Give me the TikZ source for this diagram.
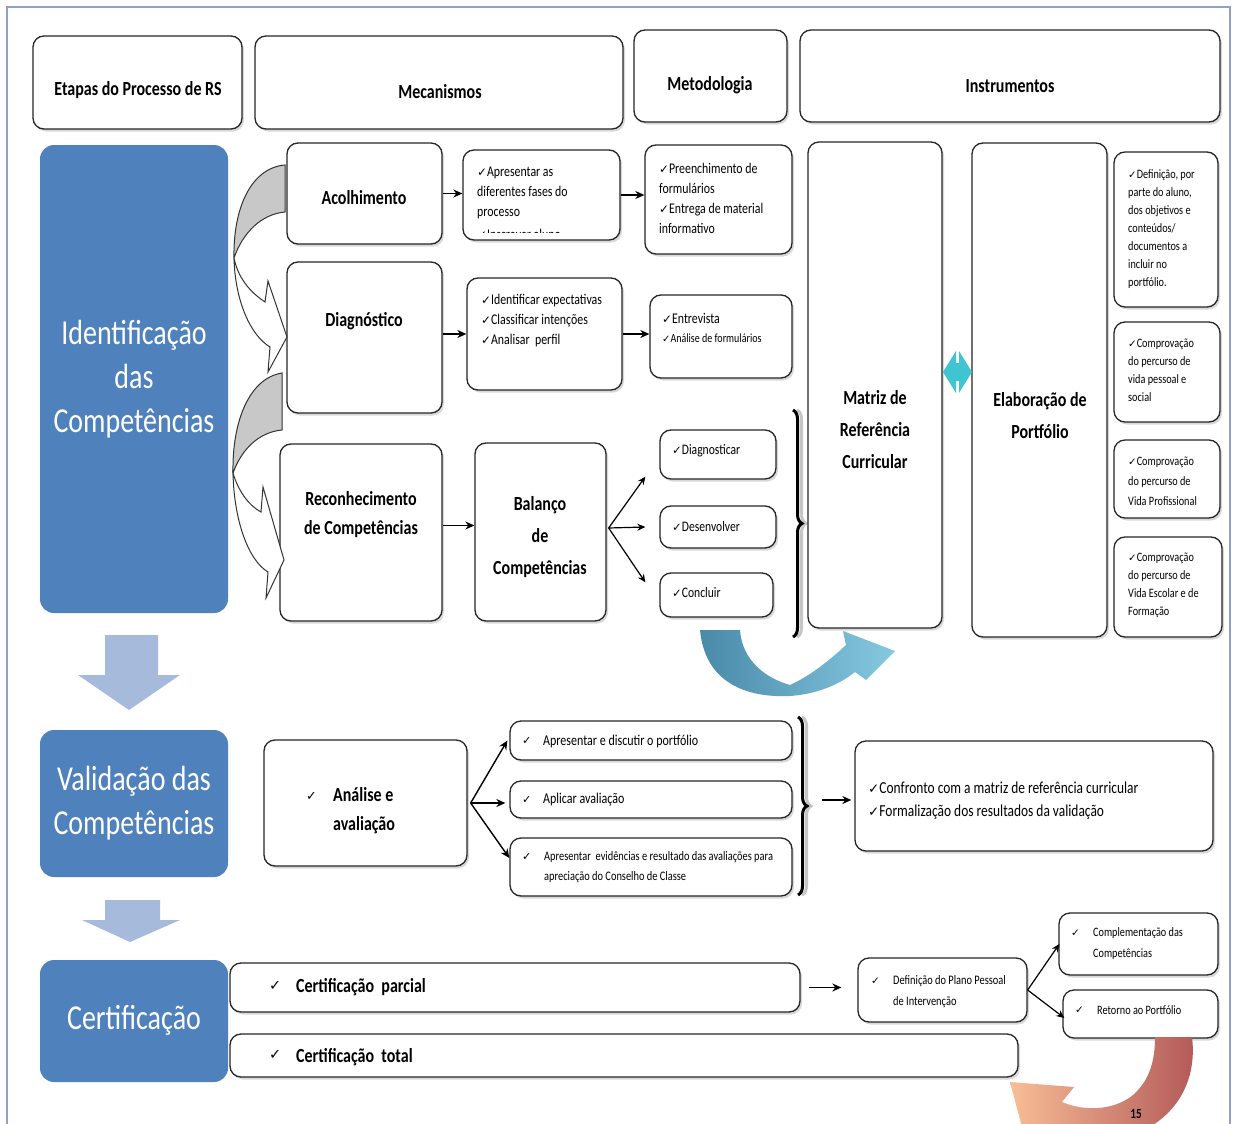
\documentclass[tikz,border=0pt]{standalone}
\usepackage{fontspec}
\setmainfont{Carlito}[FakeStretch=0.8]
\newfontfamily\dejavu{DejaVu Sans}
\usetikzlibrary{arrows.meta,shadows,decorations.pathreplacing}
\definecolor{stageblue}{RGB}{79,129,189}
\definecolor{downblue}{RGB}{166,186,220}
\definecolor{framecol}{RGB}{140,162,198}
\definecolor{grayback}{RGB}{200,200,200}
\definecolor{tealA}{RGB}{72,138,168}
\definecolor{tealB}{RGB}{135,200,225}
\definecolor{cyanarr}{RGB}{64,196,210}
\definecolor{redA}{RGB}{178,88,88}
\definecolor{peach}{RGB}{248,190,150}
\newcommand\fs[2]{\fontsize{#1}{#2}\selectfont}
\newcommand\ck{{\dejavu\scalebox{0.8}{\char"2713}}}
\begin{document}
\begin{tikzpicture}[x=1pt,y=-1pt,
  box/.style={draw=black!85,line width=1.3pt,rounded corners=11pt,fill=white,inner sep=0pt,
     drop shadow={shadow xshift=2pt,shadow yshift=-2.5pt,opacity=0.3}},
  stage/.style={fill=stageblue,rounded corners=14pt,inner sep=0pt},
  stagetxt/.style={text=white,align=center,inner sep=0pt,font=\fs{35}{44}},
  hdr/.style={inner sep=0pt,font=\fs{20}{24}\bfseries},
  btxt/.style={inner sep=0pt,align=center,font=\fs{20}{32}\bfseries},
  ltxt/.style={inner sep=0pt,align=left,anchor=west},
  arr/.style={-{Stealth[length=9pt,width=8pt]},line width=1.4pt},
  thinarr/.style={-{Stealth[length=8pt,width=7pt]},line width=1.2pt},
  downarr/.style={fill=downblue},
  curvback/.style={fill=grayback,draw=black!80,line width=1pt},
  curvfront/.style={fill=white,draw=black!80,line width=1pt},
  bracestyle/.style={decorate,decoration={brace,amplitude=9pt},line width=3pt},
]
\useasboundingbox (0,0) rectangle (1243,1124);
\fill[white] (0,0) rectangle (1243,1124);
\draw[framecol,line width=1.5pt] (7,1124) -- (7,7) -- (1230,7) -- (1230,1124);

% headers
\node[box,minimum width=209,minimum height=93] (hEt) at (137.5,82.5) {};
\node[hdr] (hEtT) at (138,90) {Etapas do Processo de RS};
\node[box,minimum width=368,minimum height=93] (hMec) at (439,82.5) {};
\node[hdr] (hMecT) at (440,92) {Mecanismos};
\node[box,minimum width=153,minimum height=92] (hMet) at (710.5,76) {};
\node[hdr] (hMetT) at (710,85) {Metodologia};
\node[box,minimum width=420,minimum height=92] (hIns) at (1010,76) {};
\node[hdr] (hInsT) at (1010,86) {Instrumentos};

% stage boxes
\node[stage,minimum width=188,minimum height=468] (sId) at (134,379) {};
\node[stagetxt] (sIdT) at (134,379) {Identificação\\das\\Competências};
\node[stage,minimum width=188,minimum height=147] (sVal) at (134,803.5) {};
\node[stagetxt] (sValT) at (134,803) {Validação das\\Competências};
\node[stage,minimum width=188,minimum height=122] (sCert) at (134,1021) {};
\node[stagetxt] (sCertT) at (134,1020) {Certificação};

% down arrows
\fill[downarr] (105,635) -- (158,635) -- (158,675) -- (180,675) -- (129,710) -- (78,675) -- (105,675) -- cycle;
\fill[downarr] (105,900) -- (160,900) -- (160,920) -- (180,920) -- (130,942) -- (82,920) -- (105,920) -- cycle;

% mecanismos
\node[box,minimum width=155,minimum height=101] (acol) at (364.5,193.5) {};
\node[btxt] (acolT) at (364,198) {Acolhimento};
\node[box,minimum width=155,minimum height=151] (diag) at (364.5,337.5) {};
\node[btxt] (diagT) at (364,321) {Diagnóstico};
\node[box,minimum width=162,minimum height=177] (recon) at (361,532.5) {};
\node[btxt,font=\fs{20}{29}\bfseries] (reconT) at (361,515) {Reconhecimento\\de Competências};
\node[box,minimum width=131,minimum height=178] (bal) at (540.5,532) {};
\node[btxt] (balT) at (540,537) {Balanço\\de\\Competências};

% acolhimento row
\node[box,minimum width=157,minimum height=90] (ap) at (541.5,195) {};
\node[ltxt,font=\fs{14.8}{20}] (apT) at (477,193) {\ck Apresentar as\\diferentes fases do\\processo};
\begin{scope}
\clip (463,150) rectangle (620,232);
\node[ltxt,font=\fs{14.8}{20}] (apT2) at (477,234) {\ck Inscrever aluno};
\end{scope}
\node[box,minimum width=147,minimum height=109] (pre) at (718.5,199.5) {};
\node[ltxt,font=\fs{14.8}{20}] (preT) at (659,198) {\ck Preenchimento de\\formulários\\\ck Entrega de material\\informativo};

% diagnostico row
\node[box,minimum width=155,minimum height=112] (idf) at (544.5,334) {};
\node[ltxt,font=\fs{14.8}{20}] (idfT) at (481,321) {\ck Identificar expectativas\\\ck Classificar intenções\\\ck Analisar\ \ perfil};
\node[box,minimum width=142,minimum height=83] (ent) at (721,336.5) {};
\node[ltxt,font=\fs{14.8}{20}] (entT1) at (662,318) {\ck Entrevista};
\node[ltxt,font=\fs{12.5}{16}] (entT2) at (662,338) {\ck Análise de formulários};

% balanco outputs
\node[box,minimum width=116,minimum height=49] (dgn) at (718,454.5) {};
\node[ltxt,font=\fs{14.5}{18}] (dgnT) at (672,451) {\ck Diagnosticar};
\node[box,minimum width=116,minimum height=42] (des) at (718,527) {};
\node[ltxt,font=\fs{14.5}{18}] (desT) at (672,527) {\ck Desenvolver};
\node[box,minimum width=113,minimum height=44] (con) at (716.5,595) {};
\node[ltxt,font=\fs{14.5}{18}] (conT) at (672,593) {\ck Concluir};

% braces
\draw[bracestyle,gray!45] (797,410) -- (797,637);
\draw[bracestyle] (793,410) -- (793,637);

% matriz / elaboracao
\node[box,minimum width=134,minimum height=486] (mat) at (875,385) {};
\node[btxt] (matT) at (875,430) {Matriz de\\Referência\\Curricular};
\node[box,minimum width=135,minimum height=494] (elab) at (1039.5,390) {};
\node[btxt] (elabT) at (1040,416) {Elaboração de\\Portfólio};
\fill[cyanarr] (943,372) -- (956,351) -- (956,363) -- (959,363) -- (959,351) -- (972,372) -- (959,393) -- (959,381) -- (956,381) -- (956,393) -- cycle;

% instruments
\node[box,minimum width=104,minimum height=155] (r1) at (1166,229.5) {};
\node[ltxt,font=\fs{12.8}{18}] (r1T) at (1128,229) {\ck Definição, por\\parte do aluno,\\dos objetivos e\\conteúdos/\\documentos a\\incluir no\\portfólio.};
\node[box,minimum width=106,minimum height=100] (r2) at (1167,372) {};
\node[ltxt,font=\fs{12.8}{18}] (r2T) at (1128,370) {\ck Comprovação\\do percurso de\\vida pessoal e\\social};
\node[box,minimum width=106,minimum height=78] (r3) at (1167,479) {};
\node[ltxt,font=\fs{12.8}{20}] (r3T) at (1128,481) {\ck Comprovação\\do percurso de\\Vida Profissional};
\node[box,minimum width=108,minimum height=100] (r4) at (1168,587) {};
\node[ltxt,font=\fs{12.8}{18}] (r4T) at (1128,585) {\ck Comprovação\\do percurso de\\Vida Escolar e de\\Formação};

% curved blue arrow
\shade[left color=tealA,right color=tealB] (700,630) .. controls (705,682) and (745,698) .. (790,696) .. controls (818,694) and (840,684) .. (855,672) -- (866,680) -- (895,651) -- (843,631) -- (846,645) .. controls (830,660) and (810,676) .. (790,685) .. controls (765,678) and (742,660) .. (740,630) -- cycle;

% arrows row 1-3
\draw[arr] (acol.east) -- (acol.east -| ap.west);
\draw[arr] (ap.east) -- (ap.east -| pre.west);
\draw[arr] (idf.west -| diag.east) -- (idf.west);
\draw[arr] (idf.east) -- (idf.east -| ent.west);
\draw[arr] ([yshift=7pt]recon.east) -- ([yshift=7pt]recon.east -| bal.west);
\draw[thinarr] ([xshift=2pt,yshift=4pt]bal.east) -- ([xshift=-14pt,yshift=3pt]dgn.south west);
\draw[thinarr] ([xshift=2pt,yshift=4pt]bal.east) -- ([xshift=-14pt]des.west);
\draw[thinarr] ([xshift=2pt,yshift=4pt]bal.east) -- ([xshift=-14pt,yshift=-10pt]con.north west);

% gray curved arrows
\draw[curvback] (285,165) .. controls (250,168) and (233,210) .. (234,258) .. controls (243,232) and (262,214) .. (285,212) -- cycle;
\draw[curvfront] (234,258) .. controls (235,300) and (250,335) .. (270,347) -- (268,372) -- (287,337) -- (268,281) -- (265,302) .. controls (250,292) and (238,278) .. (234,258) -- cycle;
\draw[curvback] (282,373) .. controls (250,378) and (232,420) .. (233,473) .. controls (242,448) and (260,432) .. (282,430) -- cycle;
\draw[curvfront] (233,473) .. controls (234,520) and (248,560) .. (268,572) -- (266,598) -- (284,560) -- (263,487) -- (261,512) .. controls (248,505) and (238,490) .. (233,473) -- cycle;

% validacao
\node[box,minimum width=203,minimum height=126] (ana) at (365.5,803) {};
\node[ltxt,font=\fs{16}{18}] (anaC) at (306,796) {\ck};
\node[ltxt,font=\fs{20}{29}\bfseries] (anaT) at (333,811) {Análise e\\avaliação};
\node[box,minimum width=282,minimum height=39] (v1) at (651,740.5) {};
\node[ltxt,font=\fs{14}{16}] (v1C) at (522,741) {\ck};
\node[ltxt,font=\fs{15}{16}] (v1T) at (543,741) {Apresentar e discutir o portfólio};
\node[box,minimum width=282,minimum height=37] (v2) at (651,799.5) {};
\node[ltxt,font=\fs{14}{16}] (v2C) at (522,800) {\ck};
\node[ltxt,font=\fs{15}{16}] (v2T) at (543,800) {Aplicar avaliação};
\node[box,minimum width=282,minimum height=58] (v3) at (651,867) {};
\node[ltxt,font=\fs{14}{16}] (v3C) at (522,857) {\ck};
\node[ltxt,font=\fs{13}{20}] (v3T) at (544,867) {Apresentar\ \ evidências e resultado das avaliações para\\apreciação do Conselho de Classe};
\draw[bracestyle,gray!45] (802,717) -- (802,895);
\draw[bracestyle] (798,717) -- (798,895);
\coordinate (bB) at (822,800);
\node[box,minimum width=358,minimum height=110] (conf) at (1034,796) {};
\node[ltxt,font=\fs{16.8}{23}] (confT) at (868,800.5) {\ck Confronto com a matriz de referência curricular\\\ck Formalização dos resultados da validação};
\draw[arr] ([xshift=3pt]ana.east) -- ([xshift=-2pt]v1.west);
\draw[arr] ([xshift=3pt]ana.east) -- ([xshift=-4pt]ana.east -| v2.west);
\draw[arr] ([xshift=3pt]ana.east) -- ([yshift=9pt]v3.west);
\draw[arr] (bB) -- ([xshift=-3pt]bB -| conf.west);

% certificacao
\node[box,minimum width=570,minimum height=49] (par) at (515,987.5) {};
\node[ltxt,font=\fs{18}{20}] (parC) at (269,986) {\ck};
\node[ltxt,font=\fs{20}{22}\bfseries] (parT) at (296,987) {Certificação\ \ parcial};
\node[box,minimum width=788,minimum height=43] (tot) at (624,1055.5) {};
\node[ltxt,font=\fs{18}{20}] (totC) at (269,1055) {\ck};
\node[ltxt,font=\fs{20}{22}\bfseries] (totT) at (296,1057) {Certificação\ \ total};
\node[box,minimum width=169,minimum height=64] (def) at (942.5,990) {};
\node[ltxt,font=\fs{13}{16}] (defC) at (871,981) {\ck};
\node[ltxt,font=\fs{13}{21}] (defT) at (893,991.5) {Definição do Plano Pessoal\\de Intervenção};
\node[box,minimum width=159,minimum height=62] (comp) at (1138.5,944) {};
\node[ltxt,font=\fs{13}{16}] (compC) at (1071,933) {\ck};
\node[ltxt,font=\fs{12.8}{21}] (compT) at (1093,943.5) {Complementação das\\Competências};
\node[box,minimum width=155,minimum height=48] (ret) at (1140.5,1014) {};
\node[ltxt,font=\fs{13}{16}] (retC) at (1075,1010) {\ck};
\node[ltxt,font=\fs{12.8}{16}] (retT) at (1097,1010) {Retorno ao Portfólio};
\draw[arr] ([xshift=8pt]par.east) -- ([xshift=-16pt]par.east -| def.west);
\draw[thinarr] (def.east) -- ([xshift=1pt]comp.west);
\draw[thinarr] (def.east) -- ([xshift=2pt,yshift=-4pt]ret.west);

% red curved arrow
\shade[left color=peach,right color=redA] (1155,1037) -- (1192,1037) .. controls (1198,1085) and (1172,1128) .. (1115,1140) .. controls (1080,1145) and (1055,1138) .. (1040,1128) -- (1026,1142) -- (1010,1082) -- (1074,1087) -- (1062,1102) .. controls (1085,1112) and (1115,1110) .. (1133,1095) .. controls (1150,1080) and (1155,1060) .. (1155,1037) -- cycle;
\node[font=\fs{14}{14}\bfseries,inner sep=0pt] (pg) at (1136,1114) {15};
\end{tikzpicture}
\end{document}
